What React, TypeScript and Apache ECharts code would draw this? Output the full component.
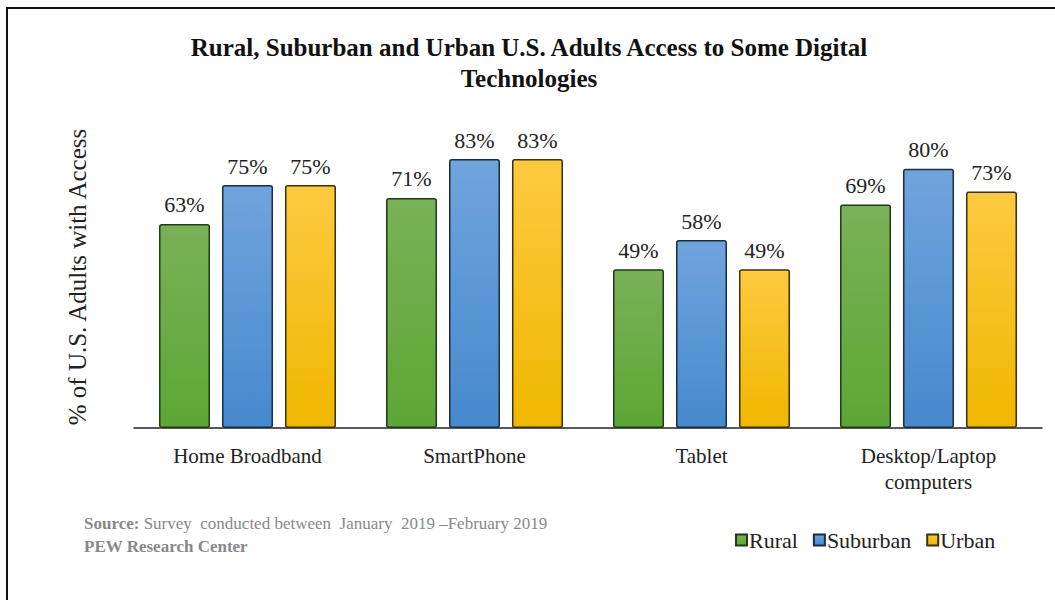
import React, { useEffect, useRef } from "react";
import * as echarts from "echarts";

const categories = ["Home Broadband", "SmartPhone", "Tablet", "Desktop/Laptop\ncomputers"];
const seriesNames = ["Rural", "Suburban", "Urban"];
const rural = [63, 71, 49, 69];
const suburban = [75, 83, 58, 80];
const urban = [75, 83, 49, 73];

const SERIF = "'Liberation Serif', 'Times New Roman', serif";

function grad(top: string, bottom: string) {
  return new echarts.graphic.LinearGradient(0, 0, 0, 1, [
    { offset: 0, color: top },
    { offset: 1, color: bottom },
  ]);
}

export default function App() {
  const ref = useRef<HTMLDivElement>(null);
  useEffect(() => {
    if (!ref.current) return;
    const chart = echarts.init(ref.current, undefined, { renderer: "svg" });
    const styles = [
      { fill: grad("#79b157", "#5ca735"), border: "#22391a" },
      { fill: grad("#70a4dd", "#4689cd"), border: "#1a2d45" },
      { fill: grad("#fdca40", "#efb700"), border: "#3d3010" },
    ];
    const data = [rural, suburban, urban];
    chart.setOption({
      animation: false,
      backgroundColor: "#ffffff",
      title: {
        text: "Rural, Suburban and Urban U.S. Adults Access to Some Digital\nTechnologies",
        left: 524,
        textAlign: "center",
        top: 27,
        textStyle: {
          fontFamily: SERIF,
          fontWeight: "bold",
          fontSize: 25,
          lineHeight: 31,
          color: "#111",
        },
      },
      grid: { left: 134, right: 13, top: 104, bottom: 172 },
      xAxis: {
        type: "category",
        data: categories,
        axisLine: { lineStyle: { color: "#222", width: 1.5 } },
        axisTick: { show: false },
        axisLabel: {
          fontFamily: SERIF,
          fontSize: 21,
          color: "#222",
          margin: 15,
          lineHeight: 26,
        },
      },
      yAxis: {
        type: "value",
        min: 0,
        max: 100,
        show: false,
      },
      legend: {
        data: seriesNames,
        left: 730,
        top: 524,
        icon: "rect",
        itemWidth: 11,
        itemHeight: 11,
        itemGap: 15,
        textStyle: { fontFamily: SERIF, fontSize: 22, color: "#222", padding: [0, 0, 0, -3] },
      },
      series: seriesNames.map((name, i) => ({
        name,
        type: "bar",
        data: data[i],
        barWidth: 51,
        barGap: "23.5%",
        itemStyle: {
          color: styles[i].fill,
          borderColor: styles[i].border,
          borderWidth: 1.5,
          borderRadius: 2,
        },
        label: {
          show: true,
          position: "top",
          distance: 8,
          formatter: "{c}%",
          fontFamily: SERIF,
          fontSize: 22,
          color: "#222",
        },
      })),
      graphic: [
        {
          type: "text",
          x: 77,
          y: 277,
          rotation: Math.PI / 2,
          style: {
            text: "% of U.S. Adults with Access",
            fontFamily: SERIF,
            fontSize: 25,
            fill: "#222",
            textAlign: "center",
            textVerticalAlign: "middle",
          },
        },
        {
          type: "text",
          left: 84,
          top: 512,
          style: {
            text: "{b|Source:} Survey  conducted between  January  2019 \u2013February 2019\n{b|PEW Research Center}",
            rich: {
              b: { fontFamily: SERIF, fontSize: 17, fontWeight: "bold", fill: "#888", lineHeight: 23 },
            },
            fontFamily: SERIF,
            fontSize: 17,
            lineHeight: 23,
            fill: "#888",
          },
        },
        {
          type: "line",
          shape: { x1: 7, y1: 8, x2: 1055, y2: 8 },
          style: { stroke: "#111", lineWidth: 2 },
        },
        {
          type: "line",
          shape: { x1: 7, y1: 7, x2: 7, y2: 600 },
          style: { stroke: "#111", lineWidth: 2 },
        },
      ],
    });
    return () => chart.dispose();
  }, []);
  return (
    <div
      ref={ref}
      style={{ position: "fixed", left: 0, top: 0, width: 1055, height: 600 }}
    />
  );
}
